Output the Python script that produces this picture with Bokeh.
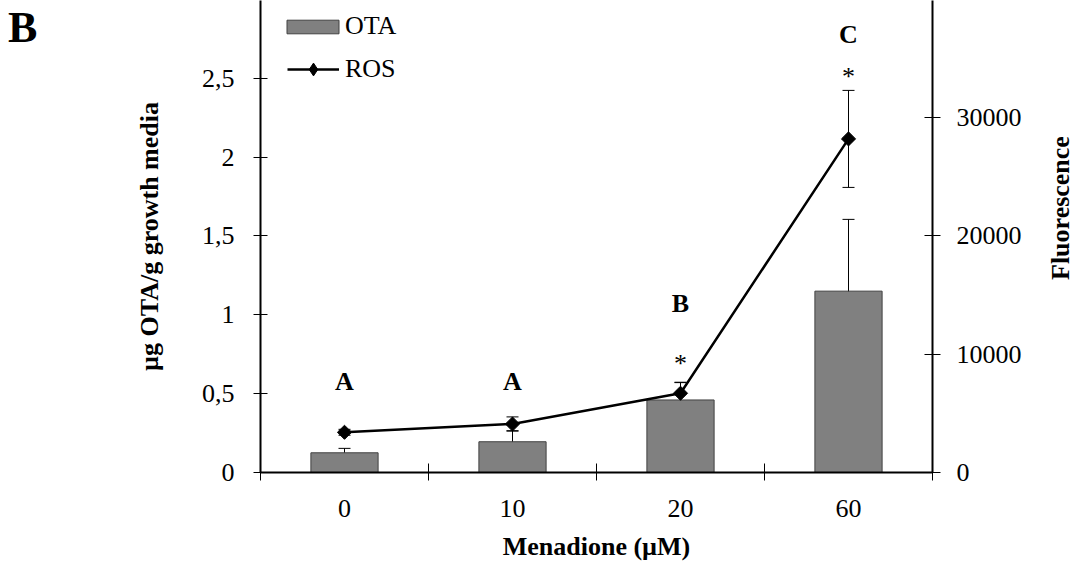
import math
from bokeh.plotting import figure
from bokeh.layouts import row
from bokeh.models import (Range1d, LinearAxis, FixedTicker, Whisker, TeeHead,
                          ColumnDataSource, Legend, LegendItem, Div,
                          BasicTickFormatter)
from bokeh.core.properties import value
from bokeh.embed import file_html
from bokeh.resources import INLINE

# ---- data ----
categories = ["0", "10", "20", "60"]
ota = [0.125, 0.195, 0.46, 1.15]
ota_err = [0.028, 0.07, 0.11, 0.455]
ros = [3400, 4100, 6700, 28200]
ros_err = [250, 600, 930, 4100]
letters = ["A", "A", "B", "C"]
stars = ["", "", "*", "*"]
left_ticks = [0, 0.5, 1, 1.5, 2, 2.5, 3]
right_ticks = [0, 10000, 20000, 30000, 40000]

# layout helpers (positions of annotation labels in left-axis units)
letter_y = [0.58, 0.58, 1.07, 2.78]
star_y = [0, 0, 0.69, 2.51]

FONT = "Liberation Serif"
DIV_L = 60          # width taken by the panel letter
DIV_R = 24          # width taken by the right axis title
W, H = 1073 - DIV_L - DIV_R, 584
FRAME_L, FRAME_R, FRAME_B = 260 - DIV_L, 932 - DIV_L, 472
xc = [i + 0.5 for i in range(len(categories))]

src = ColumnDataSource(dict(
    x=xc, ota=ota,
    ota_lo=[v - e for v, e in zip(ota, ota_err)],
    ota_hi=[v + e for v, e in zip(ota, ota_err)],
    ros=ros,
    ros_lo=[v - e for v, e in zip(ros, ros_err)],
    ros_hi=[v + e for v, e in zip(ros, ros_err)],
))

p = figure(width=W, height=H, output_backend="svg", toolbar_location=None,
           x_range=Range1d(0, len(categories)), y_range=Range1d(0, 2.993),
           min_border_left=FRAME_L, min_border_right=W - FRAME_R,
           min_border_top=0, min_border_bottom=H - FRAME_B, margin=0)
p.background_fill_color = "white"
p.outline_line_color = None
p.xgrid.visible = False
p.ygrid.visible = False
p.extra_y_ranges = {"ros": Range1d(0, 39900)}

# bars
bars = p.vbar(x="x", top="ota", width=0.4, source=src, fill_color="#808080",
              line_color="#404040", line_width=1)
p.add_layout(Whisker(base="x", lower="ota_lo", upper="ota_hi", source=src,
                     line_color="black", line_width=1,
                     upper_head=TeeHead(size=12, line_color="black", line_width=1),
                     lower_head=TeeHead(size=12, line_color="black", line_width=1)))

# ROS line
line = p.line(x="x", y="ros", source=src, y_range_name="ros",
              line_color="black", line_width=2.5)
# diamond glyph (used for the legend; hidden under the larger markers)
leg_mark = p.scatter(x="x", y="ros", source=src, y_range_name="ros",
                     marker="diamond", size=12,
                     fill_color="black", line_color="black")
marks = p.scatter(x="x", y="ros", source=src, y_range_name="ros",
                  marker="square", angle=math.pi / 4, size=10,
                  fill_color="black", line_color="black")
p.add_layout(Whisker(base="x", lower="ros_lo", upper="ros_hi", source=src,
                     y_range_name="ros", line_color="black", line_width=1,
                     upper_head=TeeHead(size=12, line_color="black", line_width=1),
                     lower_head=TeeHead(size=12, line_color="black", line_width=1)))

# annotations
p.text(x=xc, y=letter_y, text=letters, text_font=value(FONT),
       text_font_style="bold", text_font_size="26px", text_align="center",
       text_baseline="middle", text_color="black")
p.text(x=xc, y=star_y, text=stars, text_font=value(FONT),
       text_font_size="26px", text_align="center",
       text_baseline="middle", text_color="black")

# x axis
xa = p.xaxis[0]
xa.ticker = FixedTicker(ticks=xc, minor_ticks=list(range(len(categories) + 1)))
xa.major_label_overrides = {x: c for x, c in zip(xc, categories)}
xa.major_tick_in = 0
xa.major_tick_out = 0
xa.minor_tick_in = 9
xa.minor_tick_out = 8
xa.minor_tick_line_color = "black"
xa.axis_line_color = "black"
xa.axis_line_width = 2
xa.major_label_text_font = FONT
xa.major_label_text_font_size = "26px"
xa.major_label_text_color = "black"
xa.major_label_standoff = 19
xa.axis_label = "Menadione (µM)"
xa.axis_label_text_font = FONT
xa.axis_label_text_font_style = "bold"
xa.axis_label_text_font_size = "26px"
xa.axis_label_text_color = "black"
xa.axis_label_standoff = 12

# left axis
ya = p.yaxis[0]
ya.ticker = FixedTicker(ticks=left_ticks)
ya.major_label_overrides = {0.5: "0,5", 1.5: "1,5", 2.5: "2,5"}
ya.major_tick_in = 7
ya.major_tick_out = 7
ya.minor_tick_line_color = None
ya.axis_line_color = "black"
ya.axis_line_width = 2
ya.major_tick_line_color = "black"
ya.major_label_text_font = FONT
ya.major_label_text_font_size = "26px"
ya.major_label_text_color = "black"
ya.major_label_standoff = 19
ya.axis_label = "µg OTA/g growth media"
ya.axis_label_text_font = FONT
ya.axis_label_text_font_style = "bold"
ya.axis_label_text_font_size = "26px"
ya.axis_label_text_color = "black"
ya.axis_label_standoff = 35

# right axis
ra = LinearAxis(y_range_name="ros", ticker=FixedTicker(ticks=right_ticks),
                formatter=BasicTickFormatter(use_scientific=False))
ra.major_tick_in = 8
ra.major_tick_out = 8
ra.minor_tick_line_color = None
ra.axis_line_color = "black"
ra.axis_line_width = 2
ra.major_label_text_font = FONT
ra.major_label_text_font_size = "26px"
ra.major_label_text_color = "black"
ra.major_label_text_align = "left"
ra.major_label_standoff = 16
p.add_layout(ra, "right")

# legends
leg1 = Legend(items=[LegendItem(label="OTA", renderers=[bars])],
              location=(20, 431), glyph_width=65, glyph_height=17,
              label_standoff=0, padding=0, margin=0, spacing=0,
              border_line_alpha=0, background_fill_alpha=0,
              label_text_font=FONT, label_text_font_size="26px",
              label_text_color="black")
leg2 = Legend(items=[LegendItem(label="ROS", renderers=[line, leg_mark])],
              location=(27, 387), glyph_width=52, glyph_height=32,
              label_standoff=6, padding=0, margin=0, spacing=0,
              border_line_alpha=0, background_fill_alpha=0,
              label_text_font=FONT, label_text_font_size="26px",
              label_text_color="black")
p.add_layout(leg1)
p.add_layout(leg2)

# panel letter
panel = Div(text="B", width=DIV_L - 8, height=60, margin=(6, 0, 0, 8),
            styles={"font-family": FONT, "font-weight": "bold",
                    "font-size": "44px", "line-height": "1", "color": "black"})

# right axis title (reads bottom to top)
rtitle = Div(
    text=('<div style="writing-mode: vertical-rl; transform: rotate(180deg); '
          'height: 416px; width: 24px; text-align: center; line-height: 24px; '
          f'font-family: \'{FONT}\'; font-weight: bold; font-size: 26px; '
          'color: black;">Fluorescence</div>'),
    width=DIV_R, height=420, margin=0)

layout = row(panel, p, rtitle, spacing=0)

open("out.html", "w").write(file_html(layout, INLINE))
